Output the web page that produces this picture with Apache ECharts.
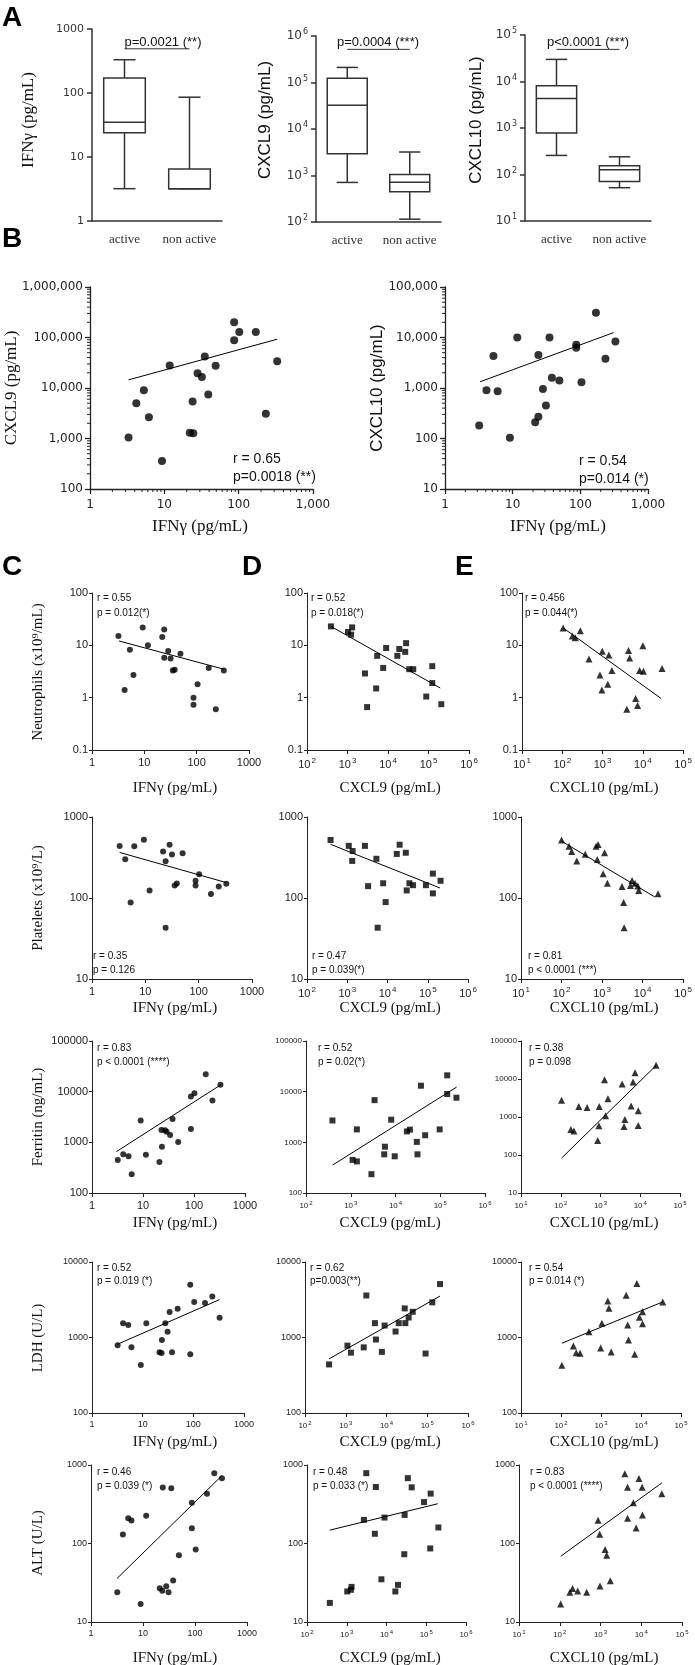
<!DOCTYPE html>
<html><head><meta charset="utf-8">
<script src="https://cdn.jsdelivr.net/npm/echarts@6/dist/echarts.min.js"></script>
<style>html,body{margin:0;padding:0;background:#fff}#c{width:695px;height:1665px}</style>
</head><body><div id="c"></div>
<script>
// ---------------- DATA ----------------
// Panel A (box plots): [min, Q1, median, Q3, max]
const boxCategories = ['active', 'non active'];
const ifngBox = [[3.2, 24, 35, 171, 331], [3.2, 3.2, 3.2, 6.5, 86]];
const cxcl9Box = [[710, 2950, 32400, 124000, 211000], [115, 450, 720, 1050, 3200]];
const cxcl10Box = [[257, 780, 4300, 8060, 29900], [52, 71, 126, 154, 240]];
const boxPText = ['p=0.0021 (**)', 'p=0.0004 (***)', 'p<0.0001 (***)'];
const boxBracketLevel = [490, 516000, 49000];
const boxYTitles = ['IFN\u03b3 (pg/mL)', 'CXCL9 (pg/mL)', 'CXCL10 (pg/mL)'];

// tick arrays
const ifngTicks = [1, 10, 100, 1000];
const cxcl9Ticks = [1e2, 1e3, 1e4, 1e5, 1e6];
const cxcl10Ticks = [1e1, 1e2, 1e3, 1e4, 1e5];
const bY1Ticks = [100, 1e3, 1e4, 1e5, 1e6];
const bY2Ticks = [10, 100, 1e3, 1e4, 1e5];
const neutTicks = [0.1, 1, 10, 100];
const pltTicks = [10, 100, 1000];
const ferrTicks = [100, 1e3, 1e4, 1e5];
const ferrTicksWide = [10, 100, 1e3, 1e4, 1e5];
const ldhTicks = [100, 1e3, 1e4];
const altTicks = [10, 100, 1e3];

// Panel B
const bIfng1 = [3.3, 4.2, 5.3, 6.2, 9.3, 11.8, 22, 24.5, 24, 28, 32, 35, 39, 49, 87, 87, 102, 170, 232, 330];
const bCxcl9 = [1050, 5000, 9000, 2650, 360, 28000, 1300, 1270, 5400, 19500, 16500, 42000, 7400, 27500, 200000, 88000, 128000, 128000, 3100, 34000];
const bTrendX1 = [3.3, 330];
const bTrendY1 = [14500, 92500];
const bAnn1 = ['r = 0.65', 'p=0.0018 (**)'];
const bIfng2 = [3.2, 4.1, 5.2, 6, 9.1, 11.7, 21.5, 24, 24, 28, 31, 35, 38, 49, 87, 87, 104, 170, 235, 330];
const bCxcl10 = [180, 900, 4300, 860, 103, 10000, 210, 270, 4500, 950, 450, 10000, 1600, 1400, 7200, 6300, 1300, 31000, 3800, 8300];
const bTrendX2 = [3.3, 310];
const bTrendY2 = [1330, 12500];
const bAnn2 = ['r = 0.54', 'p=0.014 (*)'];

// Row 1: Neutrophils
const neutIfngX = [3.2, 4.2, 5.3, 6.2, 9.3, 11.7, 22, 24, 24, 28.6, 31.7, 35, 38, 49, 87, 87, 104, 170, 232, 330];
const neutIfngY = [15, 1.4, 8.2, 2.7, 22, 10, 14.5, 20, 5.8, 7.8, 5.6, 3.3, 3.4, 6.9, 1.0, 0.73, 1.8, 3.7, 0.6, 3.3];
const neutIfngTX = [3.3, 330], neutIfngTY = [12.1, 3.5];
const neutCxcl9X = [390, 1030, 1300, 1230, 2700, 3050, 5100, 5400, 7600, 9000, 17000, 19000, 26600, 28000, 33500, 42000, 88000, 124000, 124000, 207000];
const neutCxcl9Y = [23, 18, 22, 16, 2.9, 0.66, 1.5, 6.3, 3.7, 8.9, 6.3, 8.5, 7.5, 11, 3.5, 3.5, 1.05, 4.0, 1.9, 0.75];
const neutCxcl9TX = [390, 195000], neutCxcl9TY = [23, 1.53];
const neutCxcl10X = [105, 178, 210, 280, 460, 860, 960, 980, 1350, 1430, 1700, 4000, 4400, 4700, 6600, 7400, 8300, 10000, 10300, 30000];
const neutCxcl10Y = [21.5, 15, 14, 19, 5.5, 2.7, 1.4, 7.7, 1.8, 6.5, 3.3, 0.6, 8, 5.7, 0.96, 0.71, 3.3, 9.8, 3.2, 3.6];
const neutCxcl10TX = [105, 28600], neutCxcl10TY = [21.5, 0.96];

// Row 2: Platelets
const pltIfngX = [3.3, 4.2, 5.3, 6.2, 9.4, 12, 21.5, 24, 24, 28.5, 31.6, 35.5, 39, 50, 87.5, 87.5, 102, 170, 238, 330];
const pltIfngY = [440, 300, 88, 435, 525, 124, 375, 285, 43, 455, 345, 143, 151, 358, 163, 143, 197, 112, 139, 150];
const pltIfngTX = [3.3, 330], pltIfngTY = [365, 155];
const pltCxcl9X = [385, 1090, 1360, 1330, 2750, 3300, 5300, 5700, 7800, 9000, 17000, 20000, 28500, 30000, 35000, 43000, 90000, 134000, 134000, 208000];
const pltCxcl9Y = [520, 440, 380, 287, 440, 140, 305, 43, 152, 89, 350, 455, 362, 124, 152, 144, 144, 200, 114, 163];
const pltCxcl9TX = [385, 200000], pltCxcl9TY = [460, 133];
const pltCxcl10X = [100, 153, 178, 237, 385, 710, 800, 760, 1150, 1060, 1350, 3100, 3400, 3500, 5000, 5500, 6500, 7600, 8000, 24000];
const pltCxcl10Y = [520, 435, 376, 287, 348, 435, 457, 298, 362, 199, 152, 139, 88, 43, 143, 164, 152, 141, 124, 113];
const pltCxcl10TX = [100, 20000], pltCxcl10TY = [503, 103];

// Row 3: Ferritin
const ferIfngX = [3.2, 4.1, 5.2, 6, 9, 11.4, 21, 23, 23.5, 27, 29, 34, 38, 49, 87, 87, 102, 170, 230, 330];
const ferIfngY = [450, 580, 530, 235, 2700, 570, 410, 1750, 820, 1730, 1620, 1400, 2900, 1020, 1830, 8000, 9300, 22000, 6700, 13700];
const ferIfngTX = [3.0, 330], ferIfngTY = [655, 13500];
const ferCxcl9X = [390, 1100, 1370, 1370, 2900, 3400, 5600, 5800, 8000, 9600, 18000, 21000, 30000, 31000, 37000, 46000, 97000, 143000, 143000, 230000];
const ferCxcl9Y = [2700, 450, 1800, 420, 235, 6800, 580, 820, 2800, 530, 1640, 1780, 1020, 580, 13100, 1380, 1800, 9000, 21000, 7600];
const ferCxcl9TX = [395, 232000], ferCxcl9TY = [357, 12300];
const ferCxcl10X = [105, 180, 215, 285, 460, 850, 910, 930, 1260, 1340, 1540, 3500, 3900, 4100, 5900, 6600, 7400, 8900, 8900, 25000];
const ferCxcl10Y = [2750, 470, 425, 1900, 1770, 240, 590, 1900, 9600, 1080, 3000, 7400, 560, 860, 1960, 8300, 14600, 1470, 600, 23000];
const ferCxcl10TX = [105, 25400], ferCxcl10TY = [83, 23000];

// Row 4: LDH
const ldhIfngX = [3.2, 4.1, 5.2, 6, 9.2, 11.8, 21.5, 23.6, 24, 28, 31, 34, 38, 49, 87, 87, 104, 170, 237, 330];
const ldhIfngY = [790, 1550, 1460, 740, 433, 1540, 637, 625, 930, 1540, 1190, 2180, 640, 2400, 5000, 600, 2950, 2870, 3500, 1830];
const ldhIfngTX = [3.2, 330], ldhIfngTY = [815, 3180];
const ldhCxcl9X = [390, 1100, 1340, 2760, 3200, 5200, 5500, 7700, 9000, 16700, 20000, 28000, 29000, 35000, 44000, 91000, 133000, 206000];
const ldhCxcl9Y = [440, 780, 630, 740, 3600, 1550, 940, 645, 1440, 1200, 1550, 2430, 1550, 1840, 2190, 613, 2920, 5100];
const ldhCxcl9TX = [390, 206000], ldhCxcl9TY = [521, 3540];
const ldhCxcl10X = [105, 204, 240, 300, 500, 980, 1050, 1480, 1580, 1800, 4260, 4650, 4870, 6950, 7900, 9100, 10900, 10900, 35000];
const ldhCxcl10Y = [430, 770, 630, 620, 1190, 728, 1550, 3050, 2440, 644, 3630, 1460, 930, 600, 5200, 1850, 2200, 1520, 2960];
const ldhCxcl10TX = [105, 35000], ldhCxcl10TY = [840, 2960];

// Row 5: ALT
const altIfngX = [3.2, 4.1, 5.2, 6, 9, 11.5, 21, 23.5, 24, 28, 31, 35, 38, 49, 87, 87, 103, 170, 235, 330];
const altIfngY = [24, 130, 210, 197, 17, 226, 27, 25, 515, 28.6, 24, 505, 33.7, 71, 330, 156, 84, 430, 785, 678];
const altIfngTX = [3.15, 325], altIfngTY = [35.7, 726];
const altCxcl9X = [375, 1030, 1270, 1320, 2700, 3100, 5100, 5400, 7450, 8900, 16700, 19500, 28000, 28600, 34400, 43000, 88000, 126000, 129000, 202000];
const altCxcl9Y = [17.5, 24.5, 25.7, 28, 200, 786, 133, 525, 35, 214, 24.5, 29.7, 73, 231, 680, 519, 337, 86.5, 432, 160];
const altCxcl9TX = [375, 195000], altCxcl9TY = [148, 321];
const altCxcl10X = [105, 177, 206, 276, 458, 870, 955, 973, 1300, 1420, 1740, 3950, 4610, 4610, 6400, 7480, 8770, 10500, 10700, 32000];
const altCxcl10Y = [17, 24, 26.7, 24.8, 24, 198, 131, 28.8, 84, 71, 33.6, 774, 521, 210, 331, 158, 672, 521, 231, 431];
const altCxcl10TX = [106, 32300], altCxcl10TY = [68.8, 594];

// annotations
const rowAnn = [
  [['r = 0.55', 'p = 0.012(*)'], ['r = 0.52', 'p = 0.018(*)'], ['r = 0.456', 'p = 0.044(*)']],
  [['r = 0.35', 'p = 0.126'], ['r = 0.47', 'p = 0.039(*)'], ['r = 0.81', 'p < 0.0001 (***)']],
  [['r = 0.83', 'p < 0.0001 (****)'], ['r = 0.52', 'p = 0.02(*)'], ['r = 0.38', 'p = 0.098']],
  [['r = 0.52', 'p = 0.019 (*)'], ['r = 0.62', 'p=0.003(**)'], ['r = 0.54', 'p = 0.014 (*)']],
  [['r = 0.46', 'p = 0.039 (*)'], ['r = 0.48', 'p = 0.033 (*)'], ['r = 0.83', 'p < 0.0001 (****)']]
];
const rowYTitles = ['Neutrophils (x10\u2079/mL)', 'Platelets (x10\u2079/L)', 'Ferritin (ng/mL)', 'LDH (U/L)', 'ALT (U/L)'];
const colXTitles = ['IFN\u03b3 (pg/mL)', 'CXCL9 (pg/mL)', 'CXCL10 (pg/mL)'];
const panelLetters = ['A', 'B', 'C', 'D', 'E'];

// ---------------- LAYOUT / STYLE ----------------
const SERIF = "Liberation Serif";
const SANS = "Liberation Sans";
const AX = '#222';
const grids = [], xAxes = [], yAxes = [], series = [], graphics = [];

function addGrid(l, t, r, b) {
  grids.push({left: l, top: t, width: r - l, height: b - t, containLabel: false});
  return grids.length - 1;
}
function txt(text, x, y, o) {
  o = o || {};
  graphics.push({type: 'text', x: x, y: y, rotation: o.rot || 0, silent: true, z: 10,
    style: {text: text, fill: o.color || '#111', fontSize: o.size || 12, fontFamily: o.family || SANS,
      fontWeight: o.weight || 'normal', align: o.align || 'left', verticalAlign: o.va || 'middle'}});
}
const plainFmt = v => String(Number(Number(v).toPrecision(6)));
const commaFmt = v => Number(Number(v).toPrecision(6)).toLocaleString('en-US');
function supLabel(bs, ss, color, margin, family) {
  return {formatter: v => '{b|10}{s|' + Math.round(Math.log10(v)) + '}', margin: margin,
    rich: {b: {fontSize: bs, fontFamily: family || SANS, color: color, lineHeight: bs + 4},
           s: {fontSize: ss, fontFamily: family || SANS, color: color, verticalAlign: 'top', padding: [0, 0, 0, 1]}}};
}
function logAxis(gi, ticks, label, o) {
  o = o || {};
  return {type: 'log', logBase: 10, gridIndex: gi, min: ticks[0], max: ticks[ticks.length - 1],
    axisLine: {show: true, onZero: false, lineStyle: {color: o.color || AX, width: o.lw || 1}},
    axisTick: {show: true, inside: false, length: o.tl || 3, lineStyle: {color: o.color || AX, width: o.lw || 1}},
    splitLine: {show: false}, minorTick: {show: false},
    axisLabel: label};
}

// ---------------- PANEL A ----------------
const boxData = [ifngBox, cxcl9Box, cxcl10Box];
const boxTicks = [ifngTicks, cxcl9Ticks, cxcl10Ticks];
const boxGrids = [[92, 29, 222, 221], [316, 36, 441, 222], [525, 35, 651, 221]];
const boxPX = [163, 378, 588];
const boxTitleX = [29, 265, 476];
function boxRender(params, api) {
  const c = api.value(0);
  const v = [api.value(1), api.value(2), api.value(3), api.value(4), api.value(5)];
  const p0 = api.coord([c, v[2]]);
  const p1 = api.coord([c === 0 ? 1 : 0, v[2]]);
  const band = Math.abs(p1[0] - p0[0]);
  const x = p0[0], hw = band * 0.32, cw = band * 0.17;
  const y = v.map(t => api.coord([c, t])[1]);
  const st = {stroke: '#333', lineWidth: 1.5, fill: null};
  return {type: 'group', children: [
    {type: 'line', shape: {x1: x, y1: y[0], x2: x, y2: y[1]}, style: st},
    {type: 'line', shape: {x1: x, y1: y[3], x2: x, y2: y[4]}, style: st},
    {type: 'line', shape: {x1: x - cw, y1: y[0], x2: x + cw, y2: y[0]}, style: st},
    {type: 'line', shape: {x1: x - cw, y1: y[4], x2: x + cw, y2: y[4]}, style: st},
    {type: 'rect', shape: {x: x - hw, y: y[3], width: 2 * hw, height: y[1] - y[3]}, style: {stroke: '#333', lineWidth: 1.5, fill: '#fff'}},
    {type: 'line', shape: {x1: x - hw, y1: y[2], x2: x + hw, y2: y[2]}, style: st}
  ]};
}
for (let i = 0; i < 3; i++) {
  const g = boxGrids[i];
  const gi = addGrid(g[0], g[1], g[2], g[3]);
  xAxes.push({type: 'category', gridIndex: gi, data: boxCategories, boundaryGap: true,
    axisLine: {lineStyle: {color: '#333', width: 1.5}},
    axisTick: {alignWithLabel: true, length: 5, lineStyle: {color: '#333', width: 1.5}},
    axisLabel: {color: '#333', fontFamily: SERIF, fontSize: 13, margin: 12, interval: 0, hideOverlap: false}});
  const lab = i === 0 ? {formatter: plainFmt, color: '#333', fontFamily: 'DejaVu Sans', fontSize: 11, margin: 8}
                      : supLabel(12, 8, '#333', 8, 'DejaVu Sans');
  yAxes.push(logAxis(gi, boxTicks[i], lab, {color: '#333', lw: 1.5, tl: 5}));
  series.push({type: 'custom', xAxisIndex: xAxes.length - 1, yAxisIndex: yAxes.length - 1,
    renderItem: boxRender, encode: {x: 0, y: [1, 2, 3, 4, 5]},
    data: boxData[i].map((b, k) => [k].concat(b)), silent: true, clip: false});
  series.push({type: 'line', xAxisIndex: xAxes.length - 1, yAxisIndex: yAxes.length - 1, symbol: 'none', silent: true,
    lineStyle: {color: '#333', width: 1}, data: [[0, boxBracketLevel[i]], [1, boxBracketLevel[i]]]});
  txt(boxPText[i], boxPX[i], 42, {size: 13, align: 'center'});
  txt(boxYTitles[i], boxTitleX[i], 120, {rot: Math.PI / 2, align: 'center', size: 17, family: i === 0 ? SERIF : SANS});
}

// ---------------- PANEL B ----------------
function minorVals(ticks) {
  const out = [];
  for (let i = 0; i < ticks.length - 1; i++) for (let m = 2; m <= 9; m++) out.push(ticks[i] * m);
  return out;
}
const bDefs = [
  {g: [90, 287, 313, 489], x: bIfng1, y: bCxcl9, tx: bTrendX1, ty: bTrendY1, yt: bY1Ticks, ann: bAnn1, annX: 233, annY: [459, 477], yTitle: 'CXCL9 (pg/mL)', yTitleX: 12, yFam: SERIF, xTitleX: 200},
  {g: [445, 287, 648, 489], x: bIfng2, y: bCxcl10, tx: bTrendX2, ty: bTrendY2, yt: bY2Ticks, ann: bAnn2, annX: 579, annY: [461, 479], yTitle: 'CXCL10 (pg/mL)', yTitleX: 377, yFam: SANS, xTitleX: 558}
];
bDefs.forEach(d => {
  const gi = addGrid(d.g[0], d.g[1], d.g[2], d.g[3]);
  xAxes.push(logAxis(gi, ifngTicks, {formatter: commaFmt, color: '#222', fontFamily: 'DejaVu Sans', fontSize: 12, margin: 10}, {tl: 5, lw: 1.3}));
  yAxes.push(logAxis(gi, d.yt, {formatter: commaFmt, color: '#222', fontFamily: 'DejaVu Sans', fontSize: 12, margin: 7}, {tl: 5, lw: 1.3}));
  const xi = xAxes.length - 1, yi = yAxes.length - 1;
  const xmin = ifngTicks[0], ymin = d.yt[0];
  series.push({type: 'custom', xAxisIndex: xi, yAxisIndex: yi, silent: true, clip: false,
    data: minorVals(ifngTicks).map(v => [v, ymin]),
    renderItem: (p, api) => { const pt = api.coord([api.value(0), api.value(1)]);
      return {type: 'line', shape: {x1: pt[0], y1: pt[1], x2: pt[0], y2: pt[1] + 3}, style: {stroke: '#222', lineWidth: 1}}; }});
  series.push({type: 'custom', xAxisIndex: xi, yAxisIndex: yi, silent: true, clip: false,
    data: minorVals(d.yt).map(v => [xmin, v]),
    renderItem: (p, api) => { const pt = api.coord([api.value(0), api.value(1)]);
      return {type: 'line', shape: {x1: pt[0], y1: pt[1], x2: pt[0] - 3, y2: pt[1]}, style: {stroke: '#222', lineWidth: 1}}; }});
  series.push({type: 'scatter', xAxisIndex: xi, yAxisIndex: yi, symbol: 'circle', symbolSize: 8, silent: true,
    itemStyle: {color: '#000'}, data: d.x.map((v, k) => [v, d.y[k]])});
  series.push({type: 'line', xAxisIndex: xi, yAxisIndex: yi, symbol: 'none', silent: true,
    lineStyle: {color: '#000', width: 1}, data: d.tx.map((v, k) => [v, d.ty[k]])});
  txt(d.ann[0], d.annX, d.annY[0], {size: 14});
  txt(d.ann[1], d.annX, d.annY[1], {size: 14});
  txt('IFN\u03b3 (pg/mL)', d.xTitleX, 527, {size: 17, family: SERIF, align: 'center'});
  txt(d.yTitle, d.yTitleX, 388, {rot: Math.PI / 2, size: 17, family: d.yFam, align: 'center'});
});

// ---------------- PANELS C, D, E ----------------
const plots = [
  [[neutIfngX, neutIfngY, neutIfngTX, neutIfngTY], [neutCxcl9X, neutCxcl9Y, neutCxcl9TX, neutCxcl9TY], [neutCxcl10X, neutCxcl10Y, neutCxcl10TX, neutCxcl10TY]],
  [[pltIfngX, pltIfngY, pltIfngTX, pltIfngTY], [pltCxcl9X, pltCxcl9Y, pltCxcl9TX, pltCxcl9TY], [pltCxcl10X, pltCxcl10Y, pltCxcl10TX, pltCxcl10TY]],
  [[ferIfngX, ferIfngY, ferIfngTX, ferIfngTY], [ferCxcl9X, ferCxcl9Y, ferCxcl9TX, ferCxcl9TY], [ferCxcl10X, ferCxcl10Y, ferCxcl10TX, ferCxcl10TY]],
  [[ldhIfngX, ldhIfngY, ldhIfngTX, ldhIfngTY], [ldhCxcl9X, ldhCxcl9Y, ldhCxcl9TX, ldhCxcl9TY], [ldhCxcl10X, ldhCxcl10Y, ldhCxcl10TX, ldhCxcl10TY]],
  [[altIfngX, altIfngY, altIfngTX, altIfngTY], [altCxcl9X, altCxcl9Y, altCxcl9TX, altCxcl9TY], [altCxcl10X, altCxcl10Y, altCxcl10TX, altCxcl10TY]]
];
const rowYTicks = [
  [neutTicks, neutTicks, neutTicks], [pltTicks, pltTicks, pltTicks], [ferrTicks, ferrTicks, ferrTicksWide],
  [ldhTicks, ldhTicks, ldhTicks], [altTicks, altTicks, altTicks]
];
const colXTicks = [ifngTicks, cxcl9Ticks, cxcl10Ticks];
const rowY = [[593, 750], [817, 979], [1041, 1193], [1262, 1413], [1465, 1622]];
const colX = [
  [[92, 249], [307, 469], [522, 685]],
  [[92, 252], [307, 468], [521, 684]],
  [[92, 245], [306, 485], [521, 680]],
  [[92, 244], [305, 468], [521, 681]],
  [[91, 247], [307, 466], [519, 682]]
];
const rowXTitleY = [788, 1008, 1223, 1442, 1658];
const colXTitleX = [175, 390, 604];
const rowYTitleY = [672, 898, 1117, 1338, 1543];
const annX = [[97, 311, 525], [93, 312, 528], [97, 318, 529], [97, 310, 529], [97, 313, 530]];
const annY = [[598, 613], [956, 970], [1048, 1062], [1268, 1281], [1472, 1486]];
const tickFont = [[11, 11, 11], [11, 11, 11], [11, 8, 8], [9, 9, 9], [9, 9, 9]];
const xTickFont = [[11, 11, 11], [11, 11, 11], [11, 8, 8], [9, 8, 8], [9, 8, 8]];
const symbols = ['circle', 'rect', 'triangle'];
const symSize = [6, 6, 7];

for (let r = 0; r < 5; r++) {
  for (let c = 0; c < 3; c++) {
    const gx = colX[r][c], gy = rowY[r];
    const gi = addGrid(gx[0], gy[0], gx[1], gy[1]);
    const fs = xTickFont[r][c];
    const xl = c === 0 ? {formatter: plainFmt, color: '#222', fontFamily: SANS, fontSize: fs, margin: 7}
                       : supLabel(fs, Math.round(fs * 0.7), '#222', 7);
    xAxes.push(logAxis(gi, colXTicks[c], xl, {tl: 4}));
    yAxes.push(logAxis(gi, rowYTicks[r][c], {formatter: plainFmt, color: '#222', fontFamily: SANS, fontSize: tickFont[r][c], margin: 4}, {tl: 3}));
    const xi = xAxes.length - 1, yi = yAxes.length - 1;
    const d = plots[r][c];
    series.push({type: 'scatter', xAxisIndex: xi, yAxisIndex: yi, symbol: symbols[c], symbolSize: symSize[c], silent: true,
      itemStyle: {color: '#000'}, data: d[0].map((v, k) => [v, d[1][k]])});
    series.push({type: 'line', xAxisIndex: xi, yAxisIndex: yi, symbol: 'none', silent: true,
      lineStyle: {color: '#000', width: 1}, data: d[2].map((v, k) => [v, d[3][k]])});
    txt(rowAnn[r][c][0], annX[r][c], annY[r][0], {size: 10});
    txt(rowAnn[r][c][1], annX[r][c], annY[r][1], {size: 10});
    txt(colXTitles[c], colXTitleX[c], rowXTitleY[r], {size: 15, family: SERIF, align: 'center'});
  }
  txt(rowYTitles[r], 38, rowYTitleY[r], {rot: Math.PI / 2, size: 15, family: SERIF, align: 'center'});
}

// panel letters
const letterPos = [[2, 18], [2, 239], [2, 567], [242, 567], [455, 567]];
panelLetters.forEach((L, i) => txt(L, letterPos[i][0], letterPos[i][1], {size: 28, weight: 'bold', color: '#000'}));

const chart = echarts.init(document.getElementById('c'), null, {renderer: 'canvas', width: 695, height: 1665});
chart.setOption({animation: false, backgroundColor: '#fff', grid: grids, xAxis: xAxes, yAxis: yAxes, series: series, graphic: graphics});
</script></body></html>
